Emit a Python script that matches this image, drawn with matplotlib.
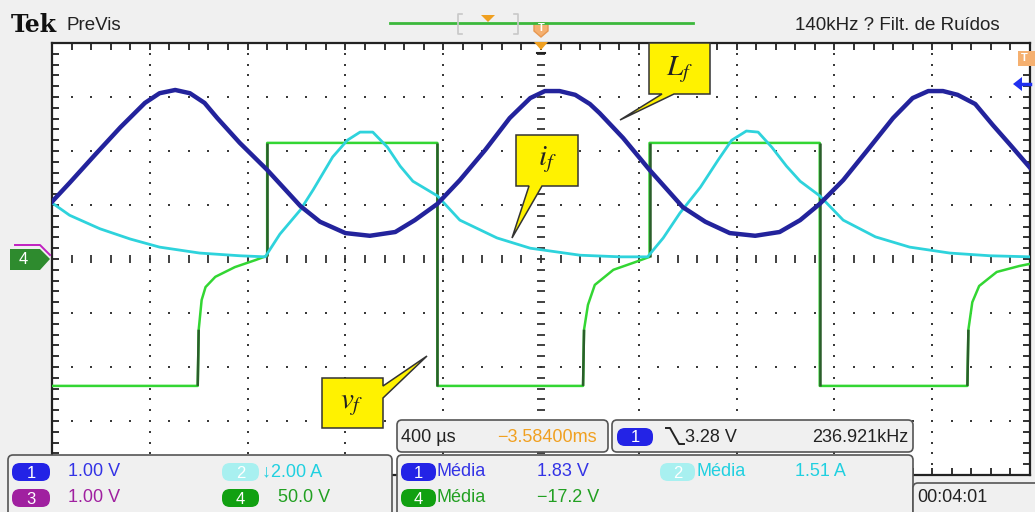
import numpy as np
import matplotlib
matplotlib.use("Agg")
import matplotlib.pyplot as plt
from matplotlib.patches import Polygon, FancyBboxPatch
from matplotlib.collections import LineCollection

plt.rcParams['mathtext.fontset'] = 'stix'
UI_FONT = ['Liberation Sans Narrow', 'Liberation Sans', 'DejaVu Sans']

# screen divisions (10 x 8), values
blue_x = [-5.00, -4.82, -4.56, -4.30, -4.05, -3.90, -3.74, -3.59, -3.44, -3.31, -3.08, -2.80,
          -2.46, -2.26, -2.00, -1.75, -1.49, -1.29, -1.06, -0.83, -0.57, -0.32, -0.11, 0.04,
          0.19, 0.35, 0.50, 0.60, 0.84, 1.11, 1.45, 1.68, 1.93, 2.19, 2.44, 2.65,
          2.85, 3.09, 3.34, 3.60, 3.80, 3.96, 4.11, 4.26, 4.44, 4.62, 4.80, 5.00]
blue_y = [1.06, 1.41, 1.93, 2.44, 2.89, 3.07, 3.13, 3.07, 2.89, 2.61, 2.15, 1.65,
          0.98, 0.69, 0.48, 0.43, 0.50, 0.72, 1.02, 1.46, 2.02, 2.61, 2.98, 3.11,
          3.11, 3.04, 2.87, 2.70, 2.24, 1.65, 0.96, 0.69, 0.48, 0.43, 0.50, 0.72,
          1.02, 1.46, 2.02, 2.61, 2.98, 3.11, 3.11, 3.04, 2.87, 2.48, 2.11, 1.69]

cyan_x = [-5.00, -4.82, -4.51, -4.20, -3.90, -3.49, -3.08, -2.82, -2.67, -2.46, -2.33, -2.13,
          -1.98, -1.85, -1.72, -1.57, -1.44, -1.31, -1.06, -0.83, -0.45, -0.11, 0.40, 0.81,
          1.09, 1.25, 1.42, 1.63, 1.81, 1.95, 2.10, 2.22, 2.36, 2.51, 2.65, 2.85,
          3.09, 3.42, 3.77, 4.18, 4.59, 5.00]
cyan_y = [1.04, 0.81, 0.56, 0.37, 0.22, 0.11, 0.06, 0.04, 0.46, 0.91, 1.28, 1.89,
          2.20, 2.35, 2.35, 2.07, 1.72, 1.44, 1.17, 0.72, 0.39, 0.20, 0.07, 0.04,
          0.04, 0.39, 0.85, 1.33, 1.83, 2.20, 2.37, 2.35, 2.07, 1.72, 1.44, 1.17,
          0.72, 0.41, 0.22, 0.11, 0.06, 0.04]

green_x = [-5.00, -3.51, -3.50, -3.47, -3.43, -3.33, -3.13, -2.92, -2.80, -2.80, -1.06, -1.06,
           0.43, 0.44, 0.48, 0.55, 0.74, 0.96, 1.11, 1.11, 2.85, 2.85, 4.36, 4.37,
           4.41, 4.48, 4.66, 4.89, 5.00]
green_y = [-2.35, -2.35, -1.31, -0.76, -0.52, -0.33, -0.15, -0.02, 0.06, 2.15, 2.15, -2.35,
           -2.35, -1.31, -0.85, -0.48, -0.20, -0.06, 0.04, 2.15, 2.15, -2.35, -2.35, -1.31,
           -0.80, -0.50, -0.24, -0.13, -0.09]

fig = plt.figure(figsize=(10.35, 5.12), dpi=100, facecolor='#f0f0f0')
ax = fig.add_axes([52 / 1035, 37 / 512, 978 / 1035, 432 / 512])
ax.set_xlim(-5, 5)
ax.set_ylim(-4, 4)
ax.set_facecolor('white')
for s in ax.spines.values():
    s.set_color('#222222')
    s.set_linewidth(1.6)
ax.set_xticks(np.arange(-5, 5.01, 1))
ax.set_xticks(np.arange(-5, 5.01, 0.2), minor=True)
ax.set_yticks(np.arange(-4, 4.01, 1))
ax.set_yticks(np.arange(-4, 4.01, 0.2), minor=True)
ax.tick_params(which='both', direction='in', top=True, right=True, length=5, width=1.3,
               color='#222222', labelbottom=False, labelleft=False)

# dotted graticule
fine_y = np.arange(-4, 4.01, 0.2)
fine_x = np.arange(-5, 5.01, 0.2)
dx, dy = [], []
for gx in range(-4, 5):
    if gx != 0:
        dx += [gx] * len(fine_y)
        dy += list(fine_y)
for gy in range(-3, 4):
    if gy != 0:
        dx += list(fine_x)
        dy += [gy] * len(fine_x)
ax.plot(dx, dy, ls='none', marker='s', ms=1.6, mew=0, color='#3a3a3a')
# centre axes with small dashes
ax.vlines(fine_x, -0.07, 0.07, color='#333333', lw=1.3)
ax.hlines(fine_y, -0.045, 0.045, color='#333333', lw=1.3)

ax.plot(green_x, green_y, color='#33d633', lw=1.8, zorder=3)
segs = []
for i in range(len(green_x) - 1):
    if abs(green_x[i + 1] - green_x[i]) < 0.02:
        segs.append([(green_x[i], green_y[i]), (green_x[i + 1], green_y[i + 1])])
ax.add_collection(LineCollection(segs, colors='#2b5e2b', lw=1.8, zorder=3.1))
ax.plot(cyan_x, cyan_y, color='#2ed3dc', lw=2.0, zorder=4)
ax.plot(blue_x, blue_y, color='#23239c', lw=3.2, zorder=5)

# overlay in pixel coordinates for the scope UI
ov = fig.add_axes([0, 0, 1, 1], zorder=5)
ov.set_xlim(0, 1035)
ov.set_ylim(512, 0)
ov.axis('off')
ov.patch.set_alpha(0)


def txt(x, y, s, color='#222222', size=12.5, ha='left', **kw):
    ov.text(x, y, s, color=color, fontsize=size, ha=ha, va='center', family=UI_FONT, **kw)


def pill(x, y, w, h, color, label, tcolor='white'):
    ov.add_patch(FancyBboxPatch((x, y), w, h, boxstyle='round,pad=0,rounding_size=8',
                                fc=color, ec='none'))
    txt(x + w / 2, y + h / 2 + 1, label, color=tcolor, size=12, ha='center')


def panel(x, y, w, h):
    ov.add_patch(FancyBboxPatch((x, y), w, h, boxstyle='round,pad=0,rounding_size=5',
                                fc='#f0f0f0', ec='#555555', lw=1.2))


# top bar
ov.text(11, 25, 'Tek', fontsize=17, fontweight='bold', family='DejaVu Serif',
        color='#111111', va='center')
txt(67, 26, 'PreVis', size=13.5)
ov.plot([390, 693], [23, 23], color='#3cb83c', lw=2)
ov.plot([462, 458, 458, 462], [14, 14, 34, 34], color='#c8c8c8', lw=1.2)
ov.plot([514, 518, 518, 514], [14, 14, 34, 34], color='#c8c8c8', lw=1.2)
ov.add_patch(Polygon([(481, 15), (495, 15), (488, 22)], fc='#f0a020', ec='none'))
ov.add_patch(Polygon([(534, 23), (548, 23), (548, 31), (541, 37), (534, 31)],
                     fc='#f5b070', ec='#e89850'))
txt(541, 28, 'T', color='white', size=8, ha='center', fontweight='bold')
ov.add_patch(Polygon([(534, 42), (548, 42), (541, 50)], fc='#f0a020', ec='none'))
ov.plot([537, 545], [53, 53], color='#222222', lw=1.5)
txt(795, 26, '140kHz ? Filt. de Ruídos', size=13.5)

# right and left markers
ov.add_patch(Polygon([(1018, 51), (1035, 51), (1035, 66), (1018, 66)], fc='#f5b070', ec='none'))
txt(1024, 58, 'T', color='white', size=8, ha='center', fontweight='bold')
ov.add_patch(Polygon([(1013, 84), (1022, 77), (1022, 91)], fc='#2030f0', ec='none'))
ov.plot([1020, 1030], [84, 84], color='#2030f0', lw=2.5)
ov.add_patch(Polygon([(10, 249), (40, 249), (50, 259), (40, 270), (10, 270)],
                     fc='#2e8b2e', ec='none'))
txt(23, 260, '4', color='white', size=12, ha='center')
ov.plot([15, 40, 50], [245, 245, 255], color='#c020c0', lw=1.4)

# callouts
callouts = [
    ([(649, 43), (710, 43), (710, 94), (674, 94), (620, 120), (662, 94), (649, 94)],
     (680, 70), r'$L_f$'),
    ([(516, 135), (578, 135), (578, 186), (542, 186), (512, 238), (529, 186), (516, 186)],
     (547, 160), r'$i_f$'),
    ([(322, 378), (383, 378), (383, 386), (427, 356), (383, 398), (383, 428), (322, 428)],
     (352, 404), r'$v_f$'),
]
for pts, (cx, cy), lab in callouts:
    ov.add_patch(Polygon(pts, fc='#fff200', ec='#333333', lw=1.1))
    ov.text(cx, cy, lab, fontsize=21, ha='center', va='center', color='#222222')

# bottom panels
panel(397, 420, 211, 32)
txt(401, 437, '400 µs', size=13)
txt(497, 437, '\u22123.58400ms', color='#f0a020', size=13)
panel(612, 420, 301, 32)
pill(617, 428, 36, 18, '#2323e6', '1')
ov.plot([666, 670, 679, 684], [428, 428, 444, 444], color='#222222', lw=1.4)
txt(685, 437, '3.28 V', size=13)
txt(908, 437, '236.921kHz', size=13, ha='right')

panel(8, 455, 384, 70)
pill(12, 463, 38, 18, '#2323e6', '1')
txt(68, 472, '1.00 V', color='#3333e6', size=13)
pill(222, 463, 37, 18, '#a8f0f0', '2')
txt(262, 472, '\u21932.00 A', color='#20d0e0', size=13)
pill(12, 489, 38, 18, '#a020a0', '3')
txt(68, 498, '1.00 V', color='#a020a0', size=13)
pill(222, 489, 37, 18, '#11a011', '4')
txt(278, 498, '50.0 V', color='#22a022', size=13)

panel(397, 455, 516, 70)
pill(401, 463, 35, 18, '#2323e6', '1')
txt(437, 472, 'Média', color='#3333e6', size=13)
txt(537, 472, '1.83 V', color='#3333e6', size=13)
pill(660, 463, 35, 18, '#a8f0f0', '2')
txt(696, 472, 'Média', color='#20d0e0', size=13)
txt(795, 472, '1.51 A', color='#20d0e0', size=13)
pill(401, 489, 35, 18, '#11a011', '4')
txt(437, 498, 'Média', color='#22a022', size=13)
txt(537, 498, '\u221217.2 V', color='#22a022', size=13)

panel(913, 483, 130, 40)
txt(917, 498, '00:04:01', size=13)

fig.savefig('out.png', dpi=100, facecolor=fig.get_facecolor())
